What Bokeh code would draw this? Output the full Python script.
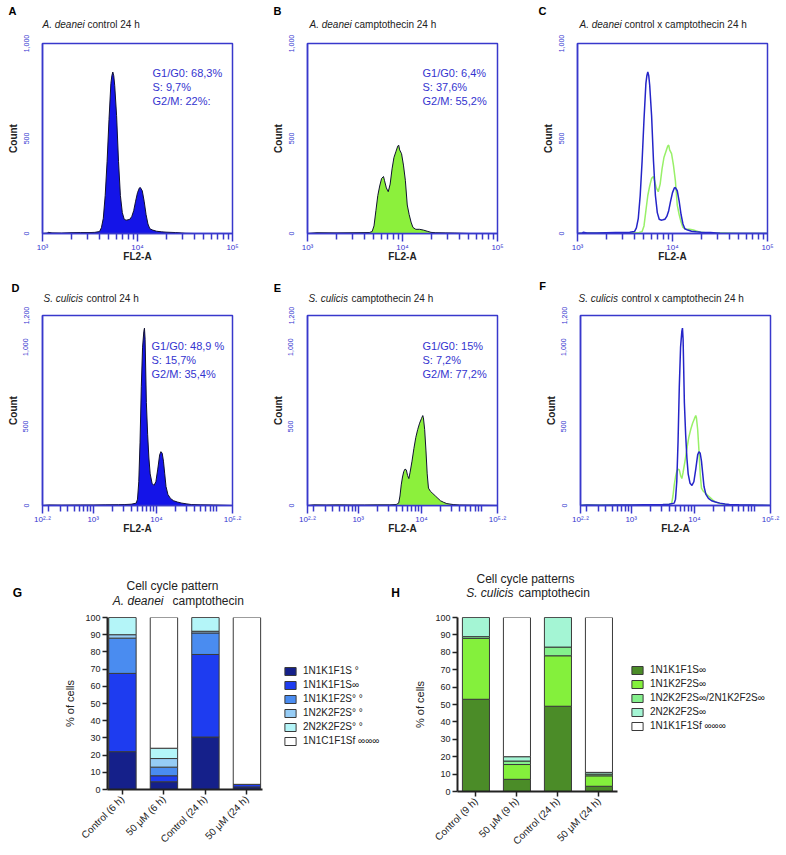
import math
from bokeh.plotting import figure
from bokeh.models import (Label, FixedTicker, Legend, LegendItem, Range1d,
                          ColumnDataSource, NumeralTickFormatter)
from bokeh.layouts import column, row
from bokeh.embed import file_html
from bokeh.resources import INLINE

FONT = "Liberation Sans"
FRAME = "#3838cc"
TXTBLUE = "#3434cf"
FILL_BLUE = "#1414e8"
FILL_GREEN = "#8cf03c"
LINE_BLUE = "#2424c8"
LINE_GREEN = "#98f068"
PAGE_W = 784

# ---------------- histogram data (x = log10 FL2-A, y = count) ----------------
A_ctrl_x = [3.00, 3.05, 3.06, 3.10, 3.20, 3.30, 3.40, 3.50, 3.55, 3.60, 3.62, 3.64, 3.66, 3.68, 3.70,
            3.72, 3.73, 3.74, 3.75, 3.76, 3.78, 3.80, 3.82, 3.84, 3.86, 3.88, 3.90, 3.92, 3.94, 3.96,
            3.98, 4.00, 4.02, 4.03, 4.05, 4.07, 4.09, 4.11, 4.13, 4.16, 4.20, 4.25, 4.30, 4.40, 4.46,
            4.50, 4.60, 5.00]
A_ctrl_y = [0, 2, 6, 3, 2, 4, 5, 5, 6, 10, 30, 80, 200, 380, 600,
            790, 830, 850, 830, 780, 620, 380, 200, 110, 75, 70, 72, 75, 90, 120,
            170, 215, 240, 242, 225, 170, 100, 50, 25, 18, 12, 9, 7, 5, 3,
            1, 0, 0]

B_cpt_x = [3.00, 3.10, 3.30, 3.50, 3.65, 3.68, 3.70, 3.72, 3.74, 3.76, 3.78, 3.80, 3.81, 3.83, 3.85,
           3.87, 3.89, 3.91, 3.93, 3.95, 3.96, 3.97, 3.99, 4.01, 4.03, 4.05, 4.07, 4.09, 4.11, 4.14,
           4.18, 4.22, 4.26, 4.30, 4.35, 4.45, 4.55, 4.70, 5.00]
B_cpt_y = [0, 4, 3, 4, 5, 10, 40, 120, 200, 250, 290, 300, 280, 240, 220,
           260, 340, 400, 430, 460, 465, 440, 420, 360, 280, 150, 100, 60, 32, 22,
           22, 18, 12, 6, 4, 3, 2, 0, 0]

D_ctrl_x = [2.20, 2.30, 2.50, 2.80, 3.00, 3.20, 3.40, 3.50, 3.60, 3.68, 3.70, 3.72, 3.74, 3.76, 3.78,
            3.80, 3.81, 3.82, 3.84, 3.86, 3.88, 3.90, 3.93, 3.96, 3.99, 4.02, 4.05, 4.07, 4.09, 4.11,
            4.13, 4.15, 4.18, 4.22, 4.27, 4.33, 4.40, 4.48, 4.55, 4.70, 4.90, 5.00, 5.20]
D_ctrl_y = [0, 3, 2, 3, 3, 4, 5, 6, 8, 15, 40, 150, 400, 750, 1000,
            1100, 1120, 1050, 650, 450, 300, 200, 140, 127, 150, 230, 320, 340, 330, 280,
            200, 120, 70, 45, 30, 22, 15, 10, 6, 4, 3, 2, 0]

E_cpt_x = [2.20, 2.30, 2.50, 2.70, 2.90, 3.10, 3.30, 3.50, 3.60, 3.64, 3.66, 3.68, 3.70, 3.72, 3.74,
           3.76, 3.78, 3.80, 3.82, 3.85, 3.88, 3.91, 3.94, 3.97, 4.00, 4.02, 4.03, 4.05, 4.07, 4.09,
           4.11, 4.14, 4.18, 4.22, 4.26, 4.30, 4.35, 4.40, 4.50, 4.60, 4.80, 5.00, 5.20]
E_cpt_y = [0, 4, 3, 4, 3, 3, 4, 4, 6, 15, 60, 130, 180, 215, 230,
           225, 190, 170, 210, 280, 360, 430, 480, 520, 550, 568, 555, 480, 350, 200,
           110, 90, 75, 60, 45, 30, 20, 12, 6, 3, 2, 1, 0]

A_ticks = [3.0, 4.0, 5.0]
A_tick_labels = ["10³", "10⁴", "10⁵"]
D_ticks = [2.2, 3.0, 4.0, 5.2]
D_tick_labels = ["10²·²", "10³", "10⁴", "10⁵·²"]

# ---------------- bar chart data ----------------
G_cats = ["Control (6 h)", "50 μM (6 h)", "Control (24 h)", "50 μM (24 h)"]
G_labels = ["1N1K1F1S °", "1N1K1F1S∞", "1N1K1F2S° °", "1N2K2F2S° °", "2N2K2F2S° °", "1N1C1F1Sf ∞∞∞"]
G_s1 = [22.0, 4.5, 30.5, 1.5]
G_s2 = [45.5, 3.5, 48.0, 1.5]
G_s3 = [20.5, 5.0, 12.5, 0.0]
G_s4 = [2.0, 5.0, 1.0, 0.0]
G_s5 = [10.0, 6.0, 8.0, 0.0]
G_s6 = [0.0, 76.0, 0.0, 97.0]
G_colors = ["#15208a", "#1e3cf0", "#4a8cf0", "#96ccf5", "#b4f5f8", "#ffffff"]

H_cats = ["Control (9 h)", "50 μM (9 h)", "Control (24 h)", "50 μM (24 h)"]
H_labels = ["1N1K1F1S∞", "1N1K2F2S∞", "1N2K2F2S∞/2N1K2F2S∞", "2N2K2F2S∞", "1N1K1F1Sf ∞∞∞"]
H_s1 = [53.0, 7.0, 49.0, 3.0]
H_s2 = [35.0, 8.5, 29.0, 6.0]
H_s3 = [1.0, 2.0, 5.0, 1.0]
H_s4 = [11.0, 2.5, 17.0, 1.0]
H_s5 = [0.0, 80.0, 0.0, 89.0]
H_colors = ["#4b8c28", "#84f03c", "#84f08c", "#a4f5d4", "#ffffff"]


def mk_label(text, x, y, size, style, color, align, units="data"):
    return Label(x=x, y=y, x_units=units, y_units=units, text=text, text_font=FONT,
                 text_font_size=size, text_font_style=style, text_color=color,
                 text_align=align, text_baseline="middle")


def strip(h, items):
    """Full-width header strip: a bare figure whose frame is the whole canvas (1 data unit = 1 px)."""
    p = figure(width=PAGE_W, height=h, x_range=Range1d(0, PAGE_W), y_range=Range1d(0, h),
               x_axis_location=None, y_axis_location=None, output_backend="svg",
               toolbar_location=None, min_border=0, outline_line_color=None,
               background_fill_color="white", border_fill_color="white")
    p.grid.visible = False
    for text, x, ytop, size, style, align in items:
        col = "#000000" if style == "bold" else "#222222"
        p.add_layout(mk_label(text, x, h - ytop, size, style, col, align))
    return p


def header(letter, lx, ly, italic, rest, tx, ty, off):
    return [(letter, lx, ly, "11px", "bold", "center"),
            (italic, tx, ty, "10px", "italic", "left"),
            (rest, tx + off, ty, "10px", "normal", "left")]


def minor_ticks(lo, hi):
    out = []
    for d in range(int(math.floor(lo)), int(math.ceil(hi)) + 1):
        for k in range(2, 10):
            v = d + math.log10(k)
            if lo < v < hi:
                out.append(v)
    return out


def hist_fig(xr, ymax, yticks, xmajor, xlabels, bl, br):
    p = figure(frame_width=190, frame_height=190, x_range=Range1d(*xr), y_range=Range1d(0, ymax),
               output_backend="svg", toolbar_location=None,
               min_border_left=bl, min_border_right=br, min_border_top=9, min_border_bottom=42,
               background_fill_color="white", border_fill_color="white")
    p.grid.visible = False
    p.outline_line_color = FRAME
    p.outline_line_width = 1.5
    xa = p.xaxis[0]
    xa.ticker = FixedTicker(ticks=xmajor, minor_ticks=minor_ticks(*xr))
    xa.major_label_overrides = {float(k): v for k, v in zip(xmajor, xlabels)}
    xa.axis_line_color = FRAME
    xa.axis_line_width = 1.5
    xa.major_tick_line_color = FRAME
    xa.minor_tick_line_color = FRAME
    xa.major_tick_line_width = 1.5
    xa.minor_tick_line_width = 1.5
    xa.major_tick_in = 0
    xa.minor_tick_in = 0
    xa.major_tick_out = 8
    xa.minor_tick_out = 6
    xa.major_label_text_color = TXTBLUE
    xa.major_label_text_font = FONT
    xa.major_label_text_font_size = "8px"
    xa.major_label_standoff = 1
    xa.axis_label = "FL2-A"
    xa.axis_label_text_font = FONT
    xa.axis_label_text_font_size = "10px"
    xa.axis_label_text_font_style = "bold"
    xa.axis_label_text_color = "#222222"
    xa.axis_label_standoff = -4
    ya = p.yaxis[0]
    ya.ticker = FixedTicker(ticks=yticks)
    ya.formatter = NumeralTickFormatter(format="0,0")
    ya.axis_line_color = FRAME
    ya.axis_line_width = 1.5
    ya.major_tick_out = 0
    ya.major_tick_in = 0
    ya.minor_tick_out = 0
    ya.minor_tick_in = 0
    ya.major_label_orientation = "vertical"
    ya.major_label_text_color = TXTBLUE
    ya.major_label_text_font = FONT
    ya.major_label_text_font_size = "7px"
    ya.major_label_standoff = 14
    ya.axis_label = "Count"
    ya.axis_label_text_font = FONT
    ya.axis_label_text_font_size = "10px"
    ya.axis_label_text_font_style = "bold"
    ya.axis_label_text_color = "#222222"
    ya.axis_label_standoff = 2
    return p


def filled(p, xs, ys, color):
    p.varea(x=xs, y1=[0] * len(xs), y2=ys, fill_color=color)
    p.line(xs, ys, line_color="#101030", line_width=1)


def stats(p, x, y, lines):
    for i, t in enumerate(lines):
        p.add_layout(mk_label(t, x, y - 14 * i, "11px", "normal", TXTBLUE, "left", "screen"))


# ---------------- row 1 ----------------
pA = hist_fig((3, 5), 1000, [0, 500, 1000], A_ticks, A_tick_labels, 42, 36)
filled(pA, A_ctrl_x, A_ctrl_y, FILL_BLUE)
stats(pA, 110, 161, ["G1/G0: 68,3%", "S: 9,7%", "G2/M: 22%:"])

pB = hist_fig((3, 5), 1000, [0, 500, 1000], A_ticks, A_tick_labels, 39, 31)
filled(pB, B_cpt_x, B_cpt_y, FILL_GREEN)
stats(pB, 115, 161, ["G1/G0: 6,4%", "S: 37,6%", "G2/M: 55,2%"])

pC = hist_fig((3, 5), 1000, [0, 500, 1000], A_ticks, A_tick_labels, 49, 17)
pC.line(B_cpt_x, B_cpt_y, line_color=LINE_GREEN, line_width=1.5)
pC.line(A_ctrl_x, A_ctrl_y, line_color=LINE_BLUE, line_width=1.5)

s1 = strip(34, header("A", 12, 10, "A. deanei", "control 24 h", 42, 24, 45)
           + header("B", 277, 10, "A. deanei", "camptothecin 24 h", 309, 24, 45)
           + header("C", 542, 10, "A. deanei", "control x camptothecin 24 h", 579, 24, 45))

# ---------------- row 2 ----------------
pD = hist_fig((2.2, 5.2), 1200, [0, 500, 1000, 1200], D_ticks, D_tick_labels, 42, 36)
filled(pD, D_ctrl_x, D_ctrl_y, FILL_BLUE)
stats(pD, 109, 160, ["G1/G0: 48,9 %", "S: 15,7%", "G2/M: 35,4%"])

pE = hist_fig((2.2, 5.2), 1200, [0, 500, 1000, 1200], D_ticks, D_tick_labels, 39, 31)
filled(pE, E_cpt_x, E_cpt_y, FILL_GREEN)
stats(pE, 115, 160, ["G1/G0: 15%", "S: 7,2%", "G2/M: 77,2%"])

pF = hist_fig((2.2, 5.2), 1200, [0, 500, 1000, 1200], D_ticks, D_tick_labels, 52, 14)
pF.line(E_cpt_x, E_cpt_y, line_color=LINE_GREEN, line_width=1.5)
pF.line(D_ctrl_x, D_ctrl_y, line_color=LINE_BLUE, line_width=1.5)

s2 = strip(31, header("D", 15, 12, "S. culicis", "control 24 h", 43, 23, 43)
           + header("E", 277, 12, "S. culicis", "camptothecin 24 h", 308, 23, 43)
           + header("F", 542, 10, "S. culicis", "control x camptothecin 24 h", 578, 23, 43))


# ---------------- row 3 : stacked bars ----------------
def bar_fig(cats, x0, pxu, fw, fh, bl, br, bt, axis_end):
    x_end = x0 + fw / pxu
    p = figure(x_range=Range1d(x0, x_end), y_range=Range1d(0, 100), frame_width=fw, frame_height=fh,
               output_backend="svg", toolbar_location=None,
               min_border_left=bl, min_border_right=br, min_border_top=bt, min_border_bottom=56,
               background_fill_color="white", border_fill_color="white")
    p.grid.visible = False
    p.outline_line_color = None
    ya = p.yaxis[0]
    ya.ticker = FixedTicker(ticks=list(range(0, 101, 10)))
    ya.axis_line_width = 2
    ya.axis_line_color = "#222222"
    ya.major_tick_line_width = 1.5
    ya.major_tick_line_color = "#222222"
    ya.major_tick_out = 5
    ya.major_tick_in = 0
    ya.minor_tick_out = 0
    ya.minor_tick_in = 0
    ya.major_label_text_font = FONT
    ya.major_label_text_font_size = "9px"
    ya.major_label_text_color = "#222222"
    ya.major_label_standoff = 2
    ya.axis_label = "% of cells"
    ya.axis_label_text_font = FONT
    ya.axis_label_text_font_size = "11px"
    ya.axis_label_text_font_style = "normal"
    ya.axis_label_text_color = "#222222"
    ya.axis_label_standoff = 6
    xa = p.xaxis[0]
    pos = list(range(1, len(cats) + 1))
    xa.ticker = FixedTicker(ticks=pos, minor_ticks=[])
    xa.major_label_overrides = {float(k): c for k, c in zip(pos, cats)}
    xa.bounds = (x0, axis_end)
    xa.axis_line_width = 2
    xa.axis_line_color = "#222222"
    xa.major_tick_line_width = 1.5
    xa.major_tick_line_color = "#222222"
    xa.major_tick_out = 5
    xa.major_tick_in = 0
    xa.minor_tick_out = 0
    xa.minor_tick_in = 0
    xa.major_label_orientation = math.pi / 4
    xa.major_label_text_font = FONT
    xa.major_label_text_font_size = "10px"
    xa.major_label_text_color = "#222222"
    xa.major_label_standoff = 3
    return p, pos


def add_legend(p, renderers, labels, loc):
    items = [LegendItem(label=l, renderers=[r]) for l, r in zip(labels, renderers)]
    leg = Legend(items=items, location=loc, margin=0, padding=0, spacing=3,
                 glyph_width=14, glyph_height=10, label_height=10, label_standoff=6,
                 label_text_font=FONT, label_text_font_size="10px", label_text_color="#222222",
                 border_line_color=None, background_fill_alpha=0)
    p.add_layout(leg)


pG, G_pos = bar_fig(G_cats, 0.64, 41.5, 281, 172, 107, 2, 9, 4.37)
G_src = ColumnDataSource(dict(x=G_pos, s1=G_s1, s2=G_s2, s3=G_s3, s4=G_s4, s5=G_s5, s6=G_s6))
rG = pG.vbar_stack(["s1", "s2", "s3", "s4", "s5", "s6"], x="x", width=0.66, source=G_src,
                   fill_color=G_colors, line_color="#3a3a3a", line_width=1)
add_legend(pG, rG, G_labels, (176, 43))

pH, H_pos = bar_fig(H_cats, 0.55, 41.0, 319, 174, 67, 8, 7, 4.45)
H_src = ColumnDataSource(dict(x=H_pos, s1=H_s1, s2=H_s2, s3=H_s3, s4=H_s4, s5=H_s5))
rH = pH.vbar_stack(["s1", "s2", "s3", "s4", "s5"], x="x", width=0.66, source=H_src,
                   fill_color=H_colors, line_color="#3a3a3a", line_width=1)
add_legend(pH, rH, H_labels, (173, 60))

s3 = strip(61, [("G", 17, 45, "12px", "bold", "center"),
                ("Cell cycle pattern", 172, 38, "12px", "normal", "center"),
                ("A. deanei", 163, 53, "12px", "italic", "right"),
                ("camptothecin", 172, 53, "12px", "normal", "left"),
                ("H", 395, 45, "12px", "bold", "center"),
                ("Cell cycle patterns", 525, 31, "12px", "normal", "center"),
                ("S. culicis", 513, 45, "12px", "italic", "right"),
                ("camptothecin", 518, 45, "12px", "normal", "left")])

layout = column(s1, row(pA, pB, pC), s2, row(pD, pE, pF), s3, row(pG, pH))
open("out.html", "w").write(file_html(layout, INLINE))
